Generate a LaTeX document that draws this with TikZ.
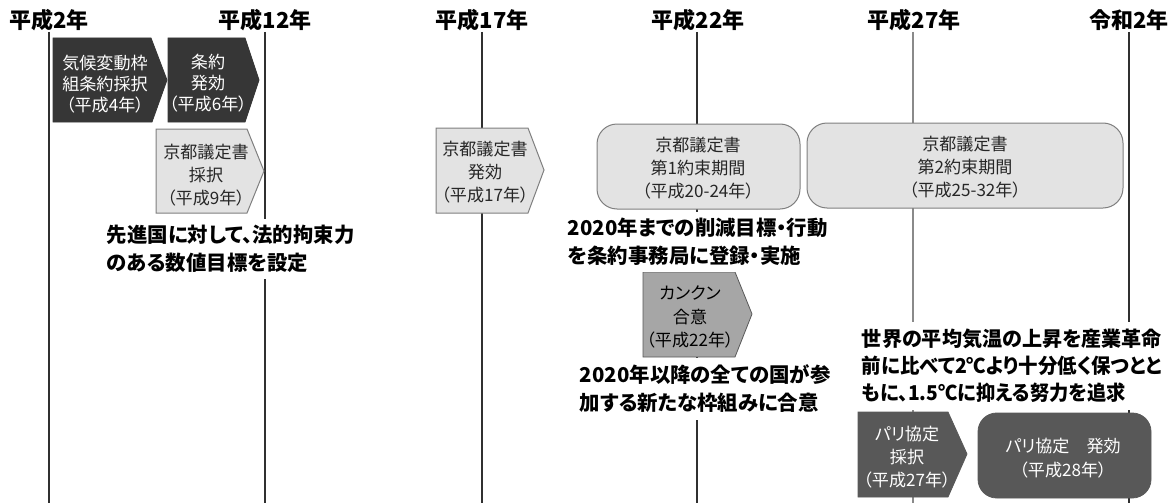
\documentclass[tikz,border=0pt]{standalone}
\usepackage{fontspec}
\usepackage{graphicx}
\setmainfont{Noto Sans CJK JP}[RawFeature=+palt]
\definecolor{darkbox}{HTML}{363636}
\definecolor{midbox}{HTML}{585858}
\definecolor{graybox}{HTML}{A6A6A6}
\definecolor{lightbox}{HTML}{E3E3E3}
\definecolor{boxline}{HTML}{7F7F7F}
\definecolor{vdark}{HTML}{303030}
\definecolor{vgray}{HTML}{8A8A8A}
\newcommand{\fitline}[2]{\resizebox{#1}{\height}{#2}}
\begin{document}
\begin{tikzpicture}[x=0.75pt,y=-0.75pt,
  yearlabel/.style={font=\bfseries\fontsize{16.5}{18}\selectfont, inner sep=0pt},
  vline/.style={line width=1.1pt, draw=vdark},
  vlinegray/.style={line width=1.1pt, draw=vgray},
  darkshape/.style={fill=darkbox, draw=darkbox, line width=0.6pt},
  midshape/.style={fill=midbox, draw=midbox, line width=0.6pt},
  grayshape/.style={fill=graybox, draw=vdark!80, line width=0.6pt},
  lightshape/.style={fill=lightbox, draw=boxline, line width=0.75pt},
  whitetext/.style={text=white, align=center, font=\fontsize{12.8}{15.8}\selectfont, inner sep=0pt},
  blacktext/.style={text=black!85, align=center, font=\fontsize{12.8}{17}\selectfont, inner sep=0pt},
  note/.style={fill=white, align=left, anchor=west, font=\bfseries\fontsize{15.3}{21}\selectfont, inner xsep=2pt, inner ysep=5pt}
]
\useasboundingbox (0,0) rectangle (1176,503);

% year labels
\node[yearlabel] (y2)  at (49,20)   {平成2年};
\node[yearlabel] (y12) at (265,20)  {平成12年};
\node[yearlabel] (y17) at (482,20)  {平成17年};
\node[yearlabel] (y22) at (698,20)  {平成22年};
\node[yearlabel] (y27) at (914,20)  {平成27年};
\node[yearlabel] (r2)  at (1129,20) {令和2年};

% vertical lines
\coordinate (t2) at (49,32);   \coordinate (b2) at (49,503);
\coordinate (t12) at (265,32); \coordinate (b12) at (265,503);
\coordinate (t17) at (482,32); \coordinate (b17) at (482,503);
\coordinate (t22) at (697,32); \coordinate (b22) at (697,503);
\coordinate (t27) at (913,32); \coordinate (b27) at (913,503);
\coordinate (tr2) at (1129,32); \coordinate (br2) at (1129,503);
\draw[vline] (t2) -- (b2);
\draw[vline] (t12) -- (b12);
\draw[vline] (t17) -- (b17);
\draw[vline] (t22) -- (b22);
\draw[vlinegray] (t27) -- (b27);
\draw[vline] (tr2) -- (br2);

% boxes
\draw[darkshape] (53,38) -- (151,38) -- (167,80) -- (152,122) -- (53,122) -- cycle;
\node[whitetext] (unfccc) at (105,84) {気候変動枠\\組条約採択\\（平成4年）};

\draw[darkshape] (168,38) -- (245,38) -- (259,80) -- (245,122) -- (168,122) -- cycle;
\node[whitetext] (effect) at (208,83) {条約\\発効\\（平成6年）};

\draw[lightshape] (156,129) -- (247,129) -- (264,171) -- (247,213) -- (156,213) -- cycle;
\node[blacktext] (kyoto) at (206,175) {京都議定書\\採択\\（平成9年）};

\draw[lightshape] (436,128) -- (528,128) -- (544,170) -- (528,213) -- (436,213) -- cycle;
\node[blacktext] (kyotoeff) at (485,172) {京都議定書\\発効\\（平成17年）};

\draw[lightshape, rounded corners=15] (597,124) rectangle (800,209);
\node[blacktext] (cp1) at (698,168) {京都議定書\\第1約束期間\\（平成20-24年）};

\draw[lightshape, rounded corners=15] (807,123) rectangle (1123,208);
\node[blacktext] (cp2) at (965,167) {京都議定書\\第2約束期間\\（平成25-32年）};

\draw[grayshape] (643,272) -- (735,272) -- (752,314) -- (735,357) -- (643,357) -- cycle;
\node[blacktext, text=black, font=\fontsize{12.8}{17.5}\selectfont] (cancun) at (690,317) {カンクン\\合意\\（平成22年）};

\draw[midshape] (858,412) -- (948,412) -- (967,454) -- (948,497) -- (858,497) -- cycle;
\node[whitetext, font=\fontsize{12.8}{17}\selectfont] (paris) at (907,457) {パリ協定\\採択\\（平成27年）};

\draw[midshape, rounded corners=14] (978,413) rectangle (1151,498);
\node[whitetext, font=\fontsize{12.8}{17.5}\selectfont] (pariseff) at (1063,458) {パリ協定　発効\\（平成28年）};

% notes
\node[note] (n1) at (104,249) {先進国に対して、法的拘束力\\のある数値目標を設定};
\node[note] (n2) at (565,242) {2020年までの削減目標・行動\\を条約事務局に登録・実施};
\node[note] (n3) at (577,389) {2020年以降の全ての国が参\\加する新たな枠組みに合意};
\node[note, font=\bfseries\fontsize{15.3}{20.3}\selectfont] (n4) at (859,366) {\fitline{225pt}{世界の平均気温の上昇を産業革命}\\\fitline{225pt}{前に比べて2℃より十分低く保つとと}\\\fitline{198pt}{もに、1.5℃に抑える努力を追求}};
\end{tikzpicture}
\end{document}
